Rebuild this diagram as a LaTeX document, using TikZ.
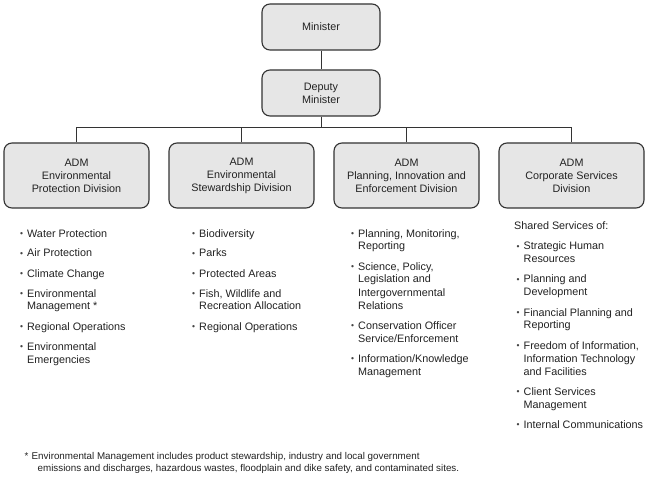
\documentclass[tikz,border=0pt]{standalone}
\usepackage{fontspec}
\setmainfont{Liberation Sans}
\definecolor{boxfill}{HTML}{E6E6E6}
\definecolor{boxline}{HTML}{333333}
\definecolor{txt}{HTML}{222222}
\newcommand{\ml}[1]{\begin{tabular}[t]{@{}l@{}}#1\end{tabular}}
\newcommand{\bul}[4]{%
  \node[blt] (#1b) at (#2,#3) {\raisebox{0.9pt}{•}};
  \node[itm] (#1) at ({#2+7},#3) {\ml{#4}};}
\begin{document}
\begin{tikzpicture}[x=1pt,y=-1pt,
  box/.style={draw=boxline, line width=1.1pt, fill=boxfill, rounded corners=8pt,
    align=center, text=txt, font=\fontsize{10.8}{13}\selectfont, inner sep=0pt},
  topbox/.style={box, minimum width=118pt, minimum height=46pt},
  divbox/.style={box, minimum width=145pt, minimum height=65pt},
  conn/.style={draw=boxline, line width=1pt},
  itm/.style={anchor=base west, inner sep=0pt, text=txt, font=\fontsize{10.8}{13}\selectfont},
  blt/.style={anchor=base west, inner sep=0pt, text=txt!85, font=\fontsize{8.5}{13}\selectfont},
  fn/.style={anchor=base west, inner sep=0pt, text=txt, font=\fontsize{9.8}{12}\selectfont}]
\useasboundingbox[fill=white] (0,0) rectangle (650,478);

% boxes
\node[topbox] (min) at (321,27) {Minister};
\node[topbox] (dep) at (321,93) {Deputy\\Minister};
\node[divbox] (d1) at (76.5,175.5) {ADM\\Environmental\\Protection Division};
\node[divbox] (d2) at (241.5,175.5) {ADM\\Environmental\\Stewardship Division};
\node[divbox] (d3) at (406.5,175.5) {ADM\\Planning, Innovation and\\Enforcement Division};
\node[divbox] (d4) at (571.5,175.5) {ADM\\Corporate Services\\Division};

% connectors
\coordinate (bus) at (321,128);
\draw[conn] (min.south) -- (dep.north);
\draw[conn] (dep.south) -- (bus);
\draw[conn] (d1.north) -- (d1.north |- bus) -- (d4.north |- bus) -- (d4.north);
\draw[conn] (d2.north) -- (d2.north |- bus);
\draw[conn] (d3.north) -- (d3.north |- bus);

% column 1
\bul{a1}{20}{237}{Water Protection}
\bul{a2}{20}{257}{Air Protection}
\bul{a3}{20}{277}{Climate Change}
\bul{a4}{20}{297}{Environmental\\Management *}
\bul{a5}{20}{330}{Regional Operations}
\bul{a6}{20}{350}{Environmental\\Emergencies}

% column 2
\bul{b1}{192}{237}{Biodiversity}
\bul{b2}{192}{257}{Parks}
\bul{b3}{192}{277}{Protected Areas}
\bul{b4}{192}{297}{Fish, Wildlife and\\Recreation Allocation}
\bul{b5}{192}{330}{Regional Operations}

% column 3
\bul{c1}{351}{237}{Planning, Monitoring,\\Reporting}
\bul{c2}{351}{270}{Science, Policy,\\Legislation and\\Intergovernmental\\Relations}
\bul{c3}{351}{329}{Conservation Officer\\Service/Enforcement}
\bul{c4}{351}{362}{Information/Knowledge\\Management}

% column 4
\node[itm] (e0) at (514,230) {Shared Services of:};
\bul{e1}{516.5}{250}{Strategic Human\\Resources}
\bul{e2}{516.5}{283}{Planning and\\Development}
\bul{e3}{516.5}{316}{Financial Planning and\\Reporting}
\bul{e4}{516.5}{349}{Freedom of Information,\\Information Technology\\and Facilities}
\bul{e5}{516.5}{395}{Client Services\\Management}
\bul{e6}{516.5}{428}{Internal Communications}

% footnote
\node[fn] (fs) at (24.5,459.5) {*};
\node[fn] (f1) at (31.5,459.5) {Environmental Management includes product stewardship, industry and local government};
\node[fn] (f2) at (37.5,471.5) {emissions and discharges, hazardous wastes, floodplain and dike safety, and contaminated sites.};
\end{tikzpicture}
\end{document}
